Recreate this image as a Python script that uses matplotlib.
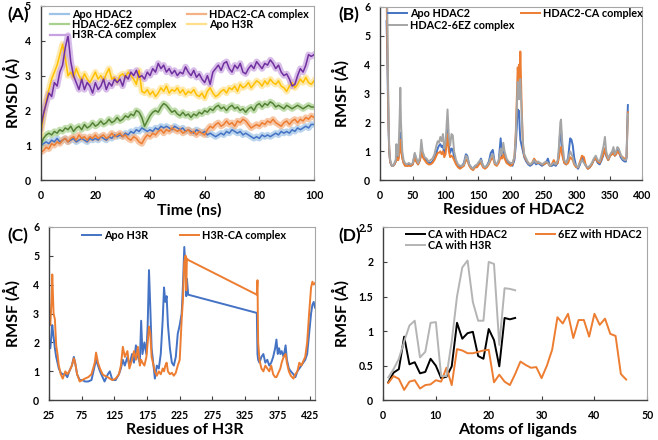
import matplotlib
matplotlib.use('Agg')
import matplotlib.pyplot as plt
from matplotlib.lines import Line2D
from matplotlib.legend import Legend

plt.rcParams['font.family'] = ['Lato', 'DejaVu Sans']
plt.rcParams['font.weight'] = 'bold'

# ---------------- Panel A data (RMSD vs time) ----------------
time_ns = list(range(0, 101))
rmsd_apo_hdac2 = [1.0, 1.05, 1.1, 1.05, 1.15, 1.1, 1.2, 1.1, 1.15, 1.2,
                  1.1, 1.15, 1.2, 1.1, 1.15, 1.2, 1.15, 1.1, 1.2, 1.15,
                  1.2, 1.15, 1.25, 1.2, 1.15, 1.25, 1.2, 1.3, 1.25, 1.3,
                  1.25, 1.35, 1.3, 1.4, 1.35, 1.45, 1.4, 1.5, 1.45, 1.4,
                  1.45, 1.4, 1.5, 1.45, 1.55, 1.5, 1.55, 1.5, 1.45, 1.55,
                  1.5, 1.45, 1.5, 1.4, 1.45, 1.4, 1.35, 1.45, 1.4, 1.35,
                  1.4, 1.3, 1.35, 1.3, 1.25, 1.3, 1.35, 1.3, 1.4, 1.35,
                  1.45, 1.4, 1.35, 1.4, 1.3, 1.35, 1.3, 1.25, 1.2, 1.25,
                  1.2, 1.3, 1.25, 1.3, 1.25, 1.3, 1.35, 1.3, 1.4, 1.35,
                  1.4, 1.35, 1.45, 1.4, 1.5, 1.45, 1.5, 1.55, 1.5, 1.6,
                  1.6]
rmsd_hdac2_ca = [0.8, 0.85, 0.95, 0.9, 1.05, 1.0, 1.1, 1.05, 1.15, 1.2,
                 1.1, 1.2, 1.25, 1.15, 1.3, 1.2, 1.25, 1.15, 1.25, 1.2,
                 1.3, 1.2, 1.25, 1.3, 1.2, 1.25, 1.35, 1.25, 1.3, 1.35,
                 1.25, 1.3, 1.2, 1.15, 1.25, 1.2, 1.1, 1.05, 1.2, 1.3,
                 1.25, 1.35, 1.3, 1.4, 1.45, 1.35, 1.45, 1.4, 1.5, 1.45,
                 1.4, 1.45, 1.35, 1.4, 1.45, 1.35, 1.4, 1.3, 1.4, 1.35,
                 1.3, 1.45, 1.55, 1.5, 1.6, 1.65, 1.55, 1.6, 1.7, 1.6,
                 1.65, 1.55, 1.7, 1.65, 1.75, 1.7, 1.6, 1.5, 1.55, 1.6,
                 1.55, 1.65, 1.6, 1.7, 1.65, 1.75, 1.65, 1.6, 1.55, 1.65,
                 1.7, 1.6, 1.7, 1.75, 1.65, 1.75, 1.7, 1.8, 1.75, 1.85,
                 1.8]
rmsd_hdac2_6ez = [1.0, 1.2, 1.3, 1.35, 1.3, 1.4, 1.35, 1.45, 1.4, 1.5,
                  1.45, 1.55, 1.4, 1.5, 1.55, 1.45, 1.6, 1.5, 1.55, 1.65,
                  1.55, 1.6, 1.7, 1.6, 1.65, 1.75, 1.65, 1.7, 1.8, 1.7,
                  1.75, 1.85, 1.8, 1.9, 1.85, 2.0, 1.95, 1.8, 1.55, 1.7,
                  1.85, 1.95, 2.0, 1.95, 2.1, 2.2, 2.15, 2.05, 1.95, 2.0,
                  1.9, 1.85, 1.95, 1.85, 1.9, 1.8, 1.9, 1.85, 1.95, 1.9,
                  2.0, 1.95, 2.05, 2.0, 2.1, 2.15, 2.05, 2.1, 2.0, 2.1,
                  2.15, 2.05, 2.1, 2.0, 2.05, 1.95, 2.05, 2.1, 2.0, 2.15,
                  2.2, 2.1, 2.2, 2.15, 2.25, 2.2, 2.1, 2.15, 2.1, 2.05,
                  2.15, 2.1, 2.05, 2.1, 2.15, 2.1, 2.05, 2.1, 2.15, 2.1,
                  2.1]
rmsd_apo_h3r = [1.3, 1.8, 2.3, 2.6, 2.9, 3.1, 3.3, 3.6, 3.9, 3.5,
                3.0, 3.1, 2.95, 3.2, 3.0, 2.85, 3.05, 2.9, 2.8, 2.95,
                3.1, 2.9, 3.0, 2.85, 3.05, 3.2, 2.9, 2.95, 2.8, 3.0,
                3.05, 2.95, 3.1, 3.0, 2.9, 2.75, 3.15, 2.55, 2.5, 2.6,
                2.45, 2.55, 2.4, 2.5, 2.65, 2.55, 2.7, 2.5, 2.6, 2.55,
                2.65, 2.5, 2.6, 2.45, 2.55, 2.5, 2.6, 2.45, 2.4, 2.5,
                2.35, 2.55, 2.65, 2.5, 2.4, 2.45, 2.55, 2.6, 2.5, 2.65,
                2.6, 2.7, 2.55, 2.75, 2.65, 2.7, 2.8, 2.65, 2.75, 2.85,
                2.8, 2.7, 2.85, 2.75, 2.9, 2.8, 2.75, 2.85, 2.7, 2.65,
                2.55, 2.7, 2.8, 2.65, 2.75, 2.9, 2.8, 2.95, 2.8, 2.75,
                2.85]
rmsd_h3r_ca = [1.5, 1.9, 2.2, 2.5, 2.4, 2.8, 2.7, 3.1, 3.3, 3.8,
               4.15, 3.4, 3.0, 2.8, 2.6, 2.9, 2.6, 2.8, 2.7, 2.5,
               2.8, 2.6, 2.7, 2.9, 2.6, 2.8, 2.7, 2.9, 2.8, 2.9,
               2.7, 3.0, 2.9, 3.1, 3.0, 3.15, 2.95, 3.0, 2.9, 3.1,
               3.0, 3.2, 3.1, 3.35, 3.2, 3.3, 3.1, 3.2, 3.05, 3.15,
               3.0, 3.1, 3.05, 3.25, 3.1, 3.0, 3.15, 2.95, 3.05, 2.9,
               2.8, 3.0, 2.75, 3.1, 3.2, 3.3, 3.15, 3.35, 3.4, 3.2,
               3.1, 3.3, 3.2, 3.35, 3.1, 3.05, 3.2, 3.3, 3.2, 3.4,
               3.3, 3.2, 3.35, 3.3, 3.45, 3.35, 3.2, 3.3, 3.1, 3.0,
               3.05, 2.9, 2.7, 2.75, 3.0, 3.2, 3.1, 3.3, 3.6, 3.55,
               3.6]

# ---------------- Panel B data (RMSF of HDAC2) ----------------
res_hdac2 = [10, 11, 12, 13, 14, 15, 16, 18, 20, 22,
             24, 25, 26, 28, 30, 31, 32, 34, 36, 38,
             41, 44, 47, 50, 53, 55, 58, 61, 63, 65,
             68, 71, 74, 77, 80, 83, 86, 88, 90, 92,
             94, 96, 98, 100, 103, 105, 107, 109, 111, 113,
             116, 119, 122, 125, 128, 131, 133, 136, 139, 142,
             145, 148, 151, 154, 157, 160, 163, 166, 169, 172,
             175, 178, 181, 184, 186, 188, 190, 193, 196, 199,
             202, 205, 207, 209, 210, 211, 212, 213, 214, 215,
             216, 218, 220, 223, 226, 229, 232, 235, 238, 241,
             244, 247, 250, 253, 256, 259, 262, 265, 268, 271,
             273, 275, 276, 278, 281, 284, 287, 290, 292, 294,
             296, 299, 302, 305, 308, 311, 314, 317, 320, 323,
             326, 329, 332, 335, 338, 341, 343, 345, 348, 351,
             354, 356, 358, 360, 362, 364, 367, 370, 373, 375,
             376, 377, 378]
rmsf_apo_hdac2 = [5.5, 4.5, 3.0, 1.8, 1.0, 0.75, 0.6, 0.5, 0.5, 0.55,
                  0.65, 0.9, 0.75, 0.75, 1.1, 1.65, 1.2, 0.8, 0.6, 0.55,
                  0.5, 0.55, 0.5, 0.55, 0.9, 0.7, 0.55, 0.7, 1.0, 0.85,
                  0.75, 0.7, 0.6, 0.6, 0.65, 0.75, 0.95, 1.1, 1.2, 1.25,
                  1.15, 1.2, 0.9, 1.1, 1.9, 1.2, 0.95, 1.1, 1.05, 0.8,
                  0.6, 0.5, 0.45, 0.5, 0.6, 0.9, 0.85, 0.55, 0.45, 0.4,
                  0.5, 0.5, 0.6, 0.75, 0.5, 0.45, 0.5, 0.65, 0.95, 1.05,
                  0.6, 0.55, 0.65, 1.45, 0.8, 1.0, 0.8, 0.65, 0.6, 0.55,
                  0.5, 0.7, 1.2, 2.0, 2.45, 2.2, 2.4, 1.8, 1.4, 1.3,
                  1.2, 1.0, 0.8, 0.65, 0.55, 0.5, 0.55, 0.65, 0.55, 0.6,
                  0.55, 0.5, 0.55, 0.6, 0.75, 0.5, 0.5, 0.55, 0.5, 0.6,
                  1.0, 1.8, 1.75, 1.0, 0.6, 0.55, 0.8, 1.45, 1.4, 1.2,
                  0.8, 0.5, 0.4, 0.55, 0.8, 0.65, 0.5, 0.4, 0.45, 0.55,
                  0.7, 0.75, 0.6, 0.55, 0.7, 0.9, 1.1, 0.85, 0.7, 0.85,
                  0.95, 1.0, 0.85, 0.9, 1.05, 1.0, 0.8, 0.7, 0.65, 0.65,
                  0.8, 1.8, 2.6]
rmsf_hdac2_ca = [6.5, 5.0, 3.5, 2.0, 1.1, 0.75, 0.6, 0.5, 0.5, 0.55,
                 0.65, 0.8, 0.7, 0.7, 1.0, 1.4, 1.1, 0.75, 0.6, 0.5,
                 0.5, 0.5, 0.5, 0.55, 0.8, 0.65, 0.55, 0.7, 1.0, 0.8,
                 0.7, 0.6, 0.55, 0.55, 0.6, 0.7, 0.85, 0.95, 0.95, 1.0,
                 0.9, 1.0, 0.8, 0.9, 1.6, 1.0, 0.8, 0.85, 0.8, 0.7,
                 0.55, 0.45, 0.4, 0.45, 0.5, 0.7, 0.7, 0.5, 0.4, 0.35,
                 0.45, 0.45, 0.55, 0.6, 0.45, 0.4, 0.45, 0.55, 0.7, 0.8,
                 0.55, 0.5, 0.6, 0.8, 0.75, 0.9, 0.75, 0.6, 0.55, 0.5,
                 0.55, 0.8, 1.6, 3.2, 3.9, 3.6, 4.0, 3.4, 4.45, 3.5,
                 2.6, 1.2, 0.85, 0.7, 0.6, 0.55, 0.6, 0.75, 0.65, 0.6,
                 0.6, 0.55, 0.55, 0.6, 0.6, 0.5, 0.55, 0.7, 0.55, 0.6,
                 0.8, 1.1, 1.15, 0.85, 0.6, 0.55, 0.6, 0.8, 0.75, 0.7,
                 0.55, 0.45, 0.45, 0.65, 0.85, 0.8, 0.5, 0.4, 0.45, 0.55,
                 0.7, 0.75, 0.65, 0.6, 0.75, 0.95, 1.1, 0.85, 0.7, 0.85,
                 0.9, 0.95, 0.85, 0.9, 1.0, 0.95, 0.85, 0.8, 0.75, 0.75,
                 0.8, 1.6, 2.35]
rmsf_hdac2_6ez = [7.5, 6.2, 4.0, 2.2, 1.2, 0.8, 0.65, 0.5, 0.5, 0.6,
                  0.7, 1.25, 0.9, 0.85, 2.2, 3.2, 2.0, 1.0, 0.7, 0.6,
                  0.55, 0.6, 0.55, 0.6, 0.95, 0.8, 0.6, 0.8, 1.4, 1.0,
                  0.8, 0.75, 0.65, 0.7, 0.75, 0.9, 1.2, 1.35, 1.3, 1.5,
                  1.35, 1.6, 1.1, 1.3, 2.45, 1.5, 1.2, 1.6, 1.55, 1.0,
                  0.7, 0.55, 0.5, 0.5, 0.55, 0.85, 0.8, 0.55, 0.45, 0.4,
                  0.5, 0.55, 0.65, 0.7, 0.5, 0.45, 0.5, 0.6, 0.8, 0.9,
                  0.6, 0.55, 0.7, 1.1, 0.9, 1.3, 1.0, 0.75, 0.65, 0.6,
                  0.6, 0.8, 1.5, 2.8, 3.4, 3.2, 2.8, 3.3, 3.5, 2.9,
                  2.3, 1.3, 0.9, 0.75, 0.6, 0.55, 0.6, 0.7, 0.6, 0.65,
                  0.6, 0.55, 0.6, 0.65, 0.6, 0.5, 0.55, 0.6, 0.55, 0.7,
                  1.2, 2.0, 2.1, 1.3, 0.7, 0.6, 0.75, 1.0, 0.9, 0.8,
                  0.6, 0.5, 0.45, 0.6, 0.7, 0.6, 0.5, 0.45, 0.5, 0.6,
                  0.75, 0.85, 0.7, 0.65, 0.9, 1.2, 1.5, 1.0, 0.75, 0.9,
                  1.0, 1.15, 0.9, 1.0, 1.15, 1.1, 0.9, 0.75, 0.7, 0.7,
                  0.8, 1.5, 2.3]

# ---------------- Panel C data (RMSF of H3R) ----------------
res_h3r = [25, 27, 29, 30, 32, 34, 36, 38, 40, 43,
           46, 50, 53, 56, 60, 63, 65, 68, 72, 76,
           80, 85, 90, 95, 97, 100, 103, 107, 110, 115,
           118, 122, 127, 132, 135, 138, 141, 145, 148, 152,
           155, 158, 161, 164, 166, 168, 171, 174, 176, 178,
           180, 182, 184, 187, 190, 193, 196, 199, 201, 203,
           205, 207, 210, 213, 216, 219, 222, 225, 228, 230,
           232, 234, 235, 236, 238, 343, 344, 345, 347, 350,
           353, 356, 359, 362, 365, 368, 371, 373, 375, 377,
           379, 381, 384, 387, 389, 392, 395, 399, 402, 405,
           408, 411, 414, 417, 420, 423, 426, 428, 430, 432]
rmsf_apo_h3r = [1.85, 1.8, 2.3, 2.6, 2.2, 1.8, 1.5, 1.3, 1.1, 0.95,
                0.9, 0.9, 0.8, 1.0, 1.2, 1.5, 1.3, 0.9, 0.7, 0.7,
                0.65, 0.65, 0.7, 1.2, 1.4, 1.2, 1.0, 0.8, 0.65, 0.9,
                1.0, 0.7, 0.7, 0.9, 1.1, 1.4, 1.2, 1.5, 1.2, 1.6,
                1.3, 1.9, 1.5, 1.3, 2.75, 1.6, 2.0, 1.6, 2.6, 4.5,
                3.2, 1.8, 1.4, 0.75, 1.2, 1.1, 1.6, 2.8, 3.9, 3.4,
                3.6, 2.6, 1.8, 1.3, 1.2, 1.5, 2.3, 2.6, 3.0, 4.0,
                5.3, 4.5, 3.6, 4.2, 3.65, 3.02, 1.6, 1.4, 1.3, 1.5,
                1.6, 1.3, 1.4, 1.2, 1.3, 1.5, 1.8, 2.1, 1.6, 1.8,
                1.6, 1.7, 1.5, 1.9, 1.4, 1.1, 1.0, 0.9, 0.8, 1.0,
                1.1, 1.2, 1.3, 1.4, 1.6, 2.3, 3.0, 3.3, 3.4, 3.2]
rmsf_h3r_ca = [3.0, 2.6, 3.5, 4.35, 3.0, 2.8, 1.9, 1.6, 1.2, 0.9,
               0.75, 1.0, 0.9, 1.0, 1.2, 1.45, 1.3, 0.9, 0.65, 0.7,
               0.75, 0.8, 0.9, 1.3, 1.65, 1.3, 1.1, 0.9, 0.85, 0.8,
               0.75, 0.7, 0.75, 0.9, 1.2, 1.85, 1.5, 1.7, 1.1, 1.4,
               1.7, 1.4, 1.85, 1.2, 1.4, 1.3, 1.2, 1.5, 2.0, 2.55,
               2.3, 1.5, 1.3, 1.0, 0.85, 1.0, 0.9, 1.1, 1.0, 1.2,
               1.3, 1.0, 0.9, 0.95, 0.85, 0.95, 1.2, 1.4, 2.8, 3.5,
               4.8, 5.0, 3.8, 4.9, 4.85, 3.65, 4.15, 2.0, 1.4, 1.1,
               1.0, 1.2, 1.1, 1.0, 1.2, 0.9, 0.8, 0.8, 0.9, 1.0,
               1.1, 1.3, 1.5, 1.6, 1.3, 1.0, 0.85, 0.75, 0.9, 1.0,
               1.3, 1.2, 1.35, 1.5, 2.0, 3.0, 3.9, 4.1, 4.0, 4.05]

# ---------------- Panel D data (RMSF of ligand atoms) ----------------
atoms_ca = list(range(1, 26))
atoms_6ez = list(range(1, 47))
rmsf_ca_hdac2 = [0.26, 0.4, 0.45, 0.92, 0.52, 0.55, 0.39, 0.41, 0.6, 0.5,
                 0.32, 0.34, 0.49, 1.12, 0.89, 0.97, 0.99, 0.64, 0.6, 1.03,
                 0.87, 0.49, 1.19, 1.17, 1.19]
rmsf_ca_h3r = [0.33, 0.45, 0.6, 0.85, 1.08, 1.15, 0.62, 0.7, 1.12, 1.13,
               0.35, 0.35, 0.85, 1.5, 1.92, 2.02, 1.42, 1.15, 1.15, 2.0,
               1.97, 0.8, 1.62, 1.61, 1.59]
rmsf_6ez_hdac2 = [0.25, 0.35, 0.31, 0.15, 0.27, 0.29, 0.17, 0.22, 0.23, 0.29,
                  0.27, 0.47, 0.22, 0.74, 0.72, 0.68, 0.68, 0.7, 0.72, 0.73,
                  0.26, 0.37, 0.27, 0.22, 0.38, 0.56, 0.51, 0.47, 0.48, 0.32,
                  0.5, 0.73, 1.2, 1.11, 1.25, 0.9, 1.16, 1.16, 0.92, 1.25,
                  1.09, 1.18, 0.96, 0.93, 0.38, 0.3]

# ---------------- figure ----------------
W, H = 658, 440
fig = plt.figure(figsize=(W / 100, H / 100), dpi=100)

TICK_FS = 7.6
LEG_FS = 7.8
LAB_FS = 11.5
PANEL_FS = 12.5


def ax_px(l, t, r, b):
    return fig.add_axes([l / W, 1 - b / H, (r - l) / W, (b - t) / H])


def style(ax):
    for s in ['top', 'right']:
        ax.spines[s].set_color('#A6A6A6')
        ax.spines[s].set_linewidth(0.8)
    for s in ['left', 'bottom']:
        ax.spines[s].set_color('#404040')
        ax.spines[s].set_linewidth(1.0)
    ax.tick_params(direction='in', length=3, width=0.8, color='#404040',
                   labelsize=TICK_FS)
    ax.tick_params(axis='x', pad=7)
    ax.tick_params(axis='y', pad=7)


def legend_col(ax, handles, labels, x_px, y_px, spacing=0.0, hl=1.75):
    leg = Legend(ax, handles, labels, loc='upper left',
                 bbox_to_anchor=(x_px / W, 1 - y_px / H),
                 bbox_transform=fig.transFigure, frameon=False,
                 borderpad=0, borderaxespad=0, handlelength=hl,
                 handletextpad=0.3, labelspacing=spacing,
                 prop={'weight': 'bold', 'size': LEG_FS})
    ax.add_artist(leg)


def labels(ax, xl, yl, xlab_x, xlab_y, ylab_x):
    ax.set_xlabel(xl, fontsize=LAB_FS, fontweight='bold')
    ax.set_ylabel(yl, fontsize=LAB_FS, fontweight='bold')
    ax.xaxis.label.set_va('center')
    ax.yaxis.label.set_va('center')
    ax.xaxis.set_label_coords(xlab_x, xlab_y)
    ax.yaxis.set_label_coords(ylab_x, 0.5)


axA = ax_px(40.7, 5.8, 314, 180.3)
axB = ax_px(380, 6.7, 642.3, 180.3)
axC = ax_px(49, 226.7, 315, 400.3)
axD = ax_px(383, 227.3, 647.3, 400.3)

# ---- Panel A ----
seriesA = [
    ('Apo HDAC2', rmsd_apo_hdac2, '#4472C4', '#9DC3E6'),
    ('HDAC2-CA complex', rmsd_hdac2_ca, '#ED7D31', '#F4B183'),
    ('HDAC2-6EZ complex', rmsd_hdac2_6ez, '#548235', '#A9D18E'),
    ('Apo H3R', rmsd_apo_h3r, '#FFC000', '#FFE08A'),
    ('H3R-CA complex', rmsd_h3r_ca, '#7030A0', '#C8A2E0'),
]
for name, vals, dark, light in seriesA:
    axA.plot(time_ns, vals, color=light, lw=4.5, alpha=0.7)
for name, vals, dark, light in seriesA:
    axA.plot(time_ns, vals, color=dark, lw=1.1)
axA.set_xlim(0, 100)
axA.set_ylim(0, 5)
axA.set_xticks(range(0, 101, 20))
axA.set_yticks(range(0, 6))
style(axA)
labels(axA, 'Time (ns)', 'RMSD (Å)', 0.543, -0.17, -0.105)
hA = {n: Line2D([], [], color=l, lw=1.6) for n, v, d, l in seriesA}
legend_col(axA, [hA['Apo HDAC2'], hA['HDAC2-6EZ complex'], hA['H3R-CA complex']],
           ['Apo HDAC2', 'HDAC2-6EZ complex', 'H3R-CA complex'], 50, 8.5, spacing=-0.05)
legend_col(axA, [hA['HDAC2-CA complex'], hA['Apo H3R']],
           ['HDAC2-CA complex', 'Apo H3R'], 187, 8.5, spacing=-0.05)
fig.text(7 / W, 1 - 15 / H, '(A)', fontsize=PANEL_FS, fontweight='bold', va='center', ha='left')

# ---- Panel B ----
seriesB = [
    ('Apo HDAC2', rmsf_apo_hdac2, '#4472C4'),
    ('HDAC2-CA complex', rmsf_hdac2_ca, '#ED7D31'),
    ('HDAC2-6EZ complex', rmsf_hdac2_6ez, '#A5A5A5'),
]
hB = {}
for name, vals, c in seriesB:
    hB[name], = axB.plot(res_hdac2, vals, color=c, lw=1.4)
axB.set_xlim(0, 400)
axB.set_ylim(0, 6)
axB.set_xticks(range(0, 401, 50))
axB.set_yticks(range(0, 7))
style(axB)
labels(axB, 'Residues of HDAC2', 'RMSF (Å)', 0.51, -0.17, -0.149)
legend_col(axB, [hB['Apo HDAC2'], hB['HDAC2-6EZ complex']],
           ['Apo HDAC2', 'HDAC2-6EZ complex'], 388, 8, spacing=0.1)
legend_col(axB, [hB['HDAC2-CA complex']], ['HDAC2-CA complex'], 521, 8)
fig.text(338 / W, 1 - 15 / H, '(B)', fontsize=PANEL_FS, fontweight='bold', va='center', ha='left')

# ---- Panel C ----
hC1, = axC.plot(res_h3r, rmsf_apo_h3r, color='#4472C4', lw=1.4)
hC2, = axC.plot(res_h3r, rmsf_h3r_ca, color='#ED7D31', lw=1.4)
axC.set_xlim(25, 432)
axC.set_ylim(0, 6)
axC.set_xticks(range(25, 426, 50))
axC.set_yticks(range(0, 7))
style(axC)
labels(axC, 'Residues of H3R', 'RMSF (Å)', 0.51, -0.17, -0.139)
legend_col(axC, [hC1], ['Apo H3R'], 82, 229.5)
legend_col(axC, [hC2], ['H3R-CA complex'], 180, 229.5)
fig.text(7 / W, 1 - 236 / H, '(C)', fontsize=PANEL_FS, fontweight='bold', va='center', ha='left')

# ---- Panel D ----
hD1, = axD.plot(atoms_ca, rmsf_ca_hdac2, color='#000000', lw=1.4)
hD2, = axD.plot(atoms_6ez, rmsf_6ez_hdac2, color='#ED7D31', lw=1.4)
hD3, = axD.plot(atoms_ca, rmsf_ca_h3r, color='#B4B4B4', lw=1.4)
axD.set_xlim(0, 50)
axD.set_ylim(0, 2.5)
axD.set_xticks(range(0, 51, 10))
axD.set_yticks([0, 0.5, 1, 1.5, 2, 2.5])
axD.set_yticklabels(['0', '0.5', '1', '1.5', '2', '2.5'])
style(axD)
labels(axD, 'Atoms of ligands', 'RMSF (Å)', 0.51, -0.17, -0.159)
legend_col(axD, [hD1, hD3], ['CA with HDAC2', 'CA with H3R'], 406, 228.5, spacing=0.02)
legend_col(axD, [hD2], ['6EZ with HDAC2'], 536, 228.5)
fig.text(338 / W, 1 - 236 / H, '(D)', fontsize=PANEL_FS, fontweight='bold', va='center', ha='left')

fig.savefig('out.png', dpi=100)
